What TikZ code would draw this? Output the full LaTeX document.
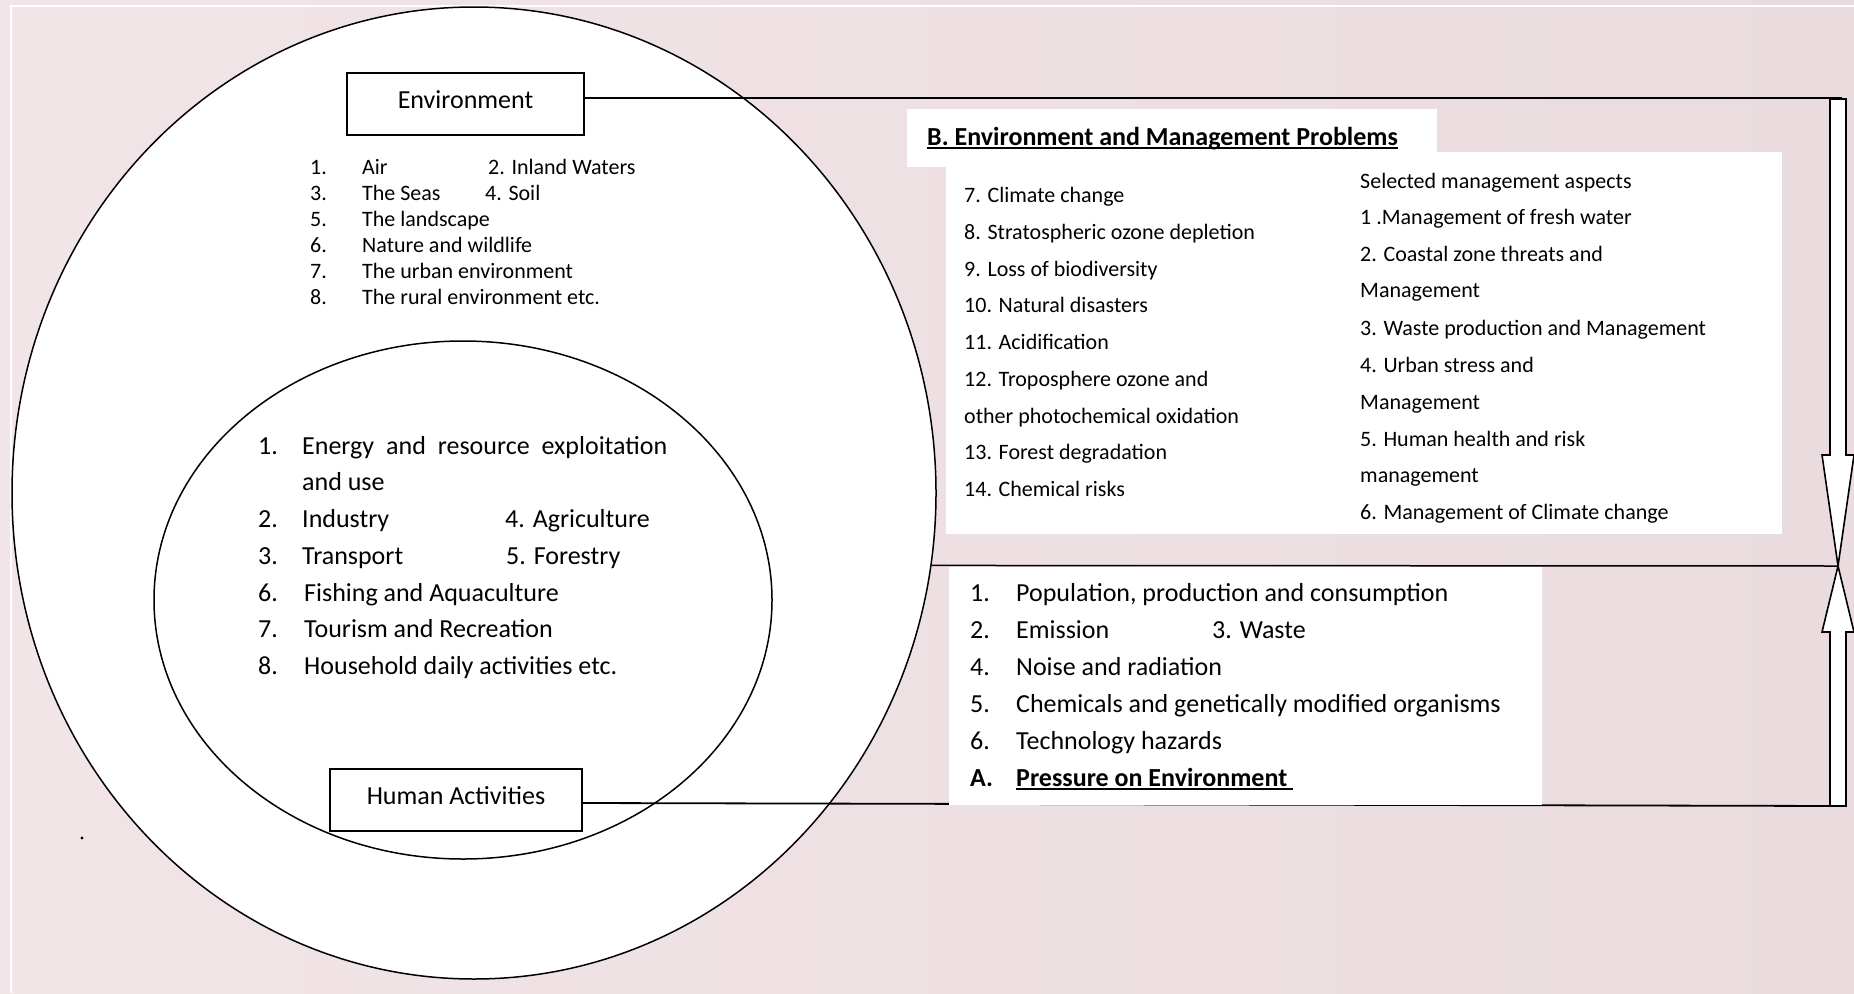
\documentclass[tikz,border=0pt]{standalone}
\usepackage{fontspec}
\setmainfont{Carlito}
\usetikzlibrary{shapes.geometric}
\definecolor{bgL}{HTML}{F2E5E7}
\definecolor{bgR}{HTML}{EADCDE}
\newcommand\fsS{\fontsize{22}{26}\selectfont}
\newcommand\fsL{\fontsize{26}{30}\selectfont}
\newcommand\fsT{\fontsize{26}{30}\selectfont}
\newcommand\myul[1]{\setbox0\hbox{#1}\rlap{\rule[-3.5pt]{\wd0}{1.8pt}}\box0}
\begin{document}
\begin{tikzpicture}[x=1pt,y=-1pt,
  s22/.style={anchor=base west, inner sep=0pt, font=\fsS},
  s26/.style={anchor=base west, inner sep=0pt, font=\fsL},
  conn/.style={line width=1.8pt, draw=black},
  lbox/.style={draw, line width=1.8pt, fill=white, font=\fsL, inner sep=0pt, text height=0.85em, text depth=0pt},
  blockarrow/.style={draw, fill=white, line width=1.6pt, line join=miter},
  ring/.style={ellipse, draw, fill=white, line width=1.5pt, inner sep=0pt}]
\useasboundingbox (0,0) rectangle (1854,993);
\shade[left color=bgL, right color=bgR] (0,0) rectangle (1854,993);
\draw[white, line width=2pt] (11,993) -- (11,6) -- (1854,6);
% ellipses
\node[ring, minimum width=924pt, minimum height=972pt] (outer) at (474,493) {};
\node[ring, minimum width=618pt, minimum height=518pt] (inner) at (463,600) {};
% label boxes
\node[lbox, minimum width=237pt, minimum height=62pt] (env) at (465.5,104) {Environment};
\node[lbox, minimum width=252pt, minimum height=62pt] (hum) at (456,800) {Human Activities};
% connector end points
\coordinate (topR) at (1842,98);
\coordinate (botR) at (1842,806);
\coordinate (tip) at (1838,566);
\draw[conn] ([yshift=6pt]env.east) -- (topR);
\draw[conn] ([yshift=-3pt]hum.east) -- (botR);
\draw[conn, line width=1.5pt] (outer.-9) -- (tip);
% white panels
\fill[white] (907,109) rectangle (1437,167);
\fill[white] (946,152) rectangle (1782,534);
\fill[white] (949,567) rectangle (1542,805);
% environment list
\node[s22] (e1n) at (310,174) {1.};
\node[s22] (e1t) at (362,174) {Air};
\node[s22] (e2t) at (488,174) {2. Inland Waters};
\node[s22] (e3n) at (310,200) {3.};
\node[s22] (e3t) at (362,200) {The Seas};
\node[s22] (e4t) at (485,200) {4. Soil};
\node[s22] (e5n) at (310,226) {5.};
\node[s22] (e5t) at (362,226) {The landscape};
\node[s22] (e6n) at (310,252) {6.};
\node[s22] (e6t) at (362,252) {Nature and wildlife};
\node[s22] (e7n) at (310,278) {7.};
\node[s22] (e7t) at (362,278) {The urban environment};
\node[s22] (e8n) at (310,304) {8.};
\node[s22] (e8t) at (362,304) {The rural environment etc.};
% human activities list
\node[s26] (h1n) at (258,454) {1.};
\node[s26] (h1t) at (302,454) {\hbox to 365pt{Energy\hfill and\hfill resource\hfill exploitation}};
\node[s26] (h1u) at (302,490) {and use};
\node[s26] (h2n) at (258,527) {2.};
\node[s26] (h2t) at (302,527) {Industry};
\node[s26] (h4t) at (505,527) {4. Agriculture};
\node[s26] (h3n) at (258,564) {3.};
\node[s26] (h3t) at (302,564) {Transport};
\node[s26] (h5t) at (506,564) {5. Forestry};
\node[s26] (h6n) at (258,601) {6.};
\node[s26] (h6t) at (304,601) {Fishing and Aquaculture};
\node[s26] (h7n) at (258,637) {7.};
\node[s26] (h7t) at (304,637) {Tourism and Recreation};
\node[s26] (h8n) at (258,674) {8.};
\node[s26] (h8t) at (304,674) {Household daily activities etc.};
% B panel
\node[anchor=base west, inner sep=0pt, font=\fsT\bfseries] (btitle) at (927,145) {\myul{B. Environment and Management Problems}};
\node[s22] (b7)  at (964,202) {7. Climate change};
\node[s22] (b8)  at (964,239) {8. Stratospheric ozone depletion};
\node[s22] (b9)  at (964,276) {9. Loss of biodiversity};
\node[s22] (b10) at (964,312) {10. Natural disasters};
\node[s22] (b11) at (964,349) {11. Acidification};
\node[s22] (b12) at (964,386) {12. Troposphere ozone and};
\node[s22] (b12b) at (964,423) {other photochemical oxidation};
\node[s22] (b13) at (964,459) {13. Forest degradation};
\node[s22] (b14) at (964,496) {14. Chemical risks};
\node[s22] (m0) at (1360,188) {Selected management aspects};
\node[s22] (m1) at (1360,224) {1 .Management of fresh water};
\node[s22] (m2) at (1360,261) {2. Coastal zone threats and};
\node[s22] (m2b) at (1360,297) {Management};
\node[s22] (m3) at (1360,335) {3. Waste production and Management};
\node[s22] (m4) at (1360,372) {4. Urban stress and};
\node[s22] (m4b) at (1360,409) {Management};
\node[s22] (m5) at (1360,446) {5. Human health and risk};
\node[s22] (m5b) at (1360,482) {management};
\node[s22] (m6) at (1360,519) {6. Management of Climate change};
% A panel
\node[s26] (a1n) at (970,601) {1.};
\node[s26] (a1t) at (1016,601) {Population, production and consumption};
\node[s26] (a2n) at (970,638) {2.};
\node[s26] (a2t) at (1016,638) {Emission};
\node[s26] (a3t) at (1212,638) {3. Waste};
\node[s26] (a4n) at (970,675) {4.};
\node[s26] (a4t) at (1016,675) {Noise and radiation};
\node[s26] (a5n) at (970,712) {5.};
\node[s26] (a5t) at (1016,712) {Chemicals and genetically modified organisms};
\node[s26] (a6n) at (970,749) {6.};
\node[s26] (a6t) at (1016,749) {Technology hazards};
\node[s26, font=\fsL\bfseries] (aAn) at (970,786) {A.};
\node[s26, font=\fsL\bfseries] (aAt) at (1016,786) {\myul{Pressure on Environment\ }};
% dot
\fill (82,838) circle (1.6);
% block arrows
\draw[blockarrow] (1830,99) -- (1846,99) -- (1846,455) -- (1854,455) -- (tip) -- (1822,455) -- (1830,455) -- cycle;
\draw[blockarrow] (tip) -- (1854,632) -- (1846,632) -- (1846,806) -- (1830,806) -- (1830,632) -- (1822,632) -- cycle;
\end{tikzpicture}
\end{document}
